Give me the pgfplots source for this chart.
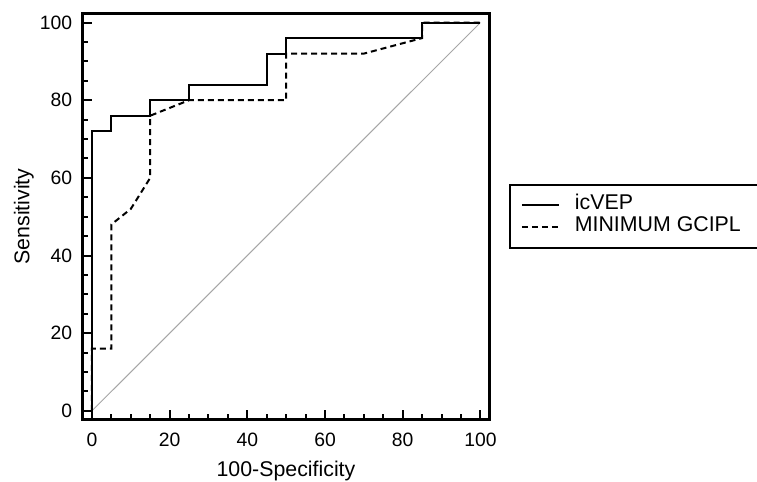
\documentclass[border=0pt]{standalone}
\usepackage{fontspec}
\setmainfont{Liberation Sans}
\usepackage{pgfplots}
\pgfplotsset{compat=1.18}

\newcommand{\tickfont}{\fontsize{14.5}{16}\selectfont}
\newcommand{\labfont}{\fontsize{16}{18}\selectfont}

\begin{document}
\begin{tikzpicture}[x=1pt,y=1pt]
\useasboundingbox (-62.25,-47.25) rectangle (505.5,314.25);
\begin{axis}[
  at={(0,0)}, anchor=south west, scale only axis,
  width=304.5pt, height=303.75pt,
  xmin=-2.3, xmax=102.2, ymin=-2.1, ymax=102.2,
  xtick={0,20,...,100}, ytick={0,20,...,100},
  minor tick num=3,
  xtick pos=bottom, ytick pos=left,
  xtick align=inside, ytick align=inside,
  major tick length=6.5pt, minor tick length=4pt,
  major tick style={black, line width=1.5pt},
  minor tick style={black, line width=1.5pt},
  axis line style={line width=2.25pt},
  /pgf/number format/assume math mode=true,
  tick label style={font=\tickfont},
  xticklabel style={inner sep=0pt, anchor=base, yshift=-20.25pt},
  yticklabel style={inner sep=0pt, anchor=east, xshift=-7.9pt},
  xlabel={100-Specificity}, ylabel={Sensitivity},
  label style={font=\labfont},
  xlabel style={at={(axis description cs:0.5,-0.1432)}, anchor=base, inner sep=0pt},
  ylabel style={at={(axis description cs:-0.1323,0.5)}, anchor=base, inner sep=0pt},
  legend style={at={(1.049,0.580)}, anchor=north west, draw=black,
    line width=1.5pt, font=\labfont, inner xsep=8.25pt, inner ysep=7pt,
    row sep=0pt, column sep=11.25pt,
    nodes={inner sep=0pt, text height=11.5pt, text depth=5pt}},
  legend cell align=left,
  legend image code/.code={\draw[#1] (0pt,0pt) -- (27.75pt,0pt);},
]
\addplot[gray!70, line width=0.75pt, forget plot] coordinates {(0,0) (100,100)};

\addplot[black, line width=1.5pt, line join=miter] coordinates {
(0,0) (0,72) (5,72) (5,76) (15,76) (15,80) (25,80) (25,84) (45,84)
(45,92) (50,92) (50,96) (85,96) (85,100) (100,100)};
\addlegendentry{icVEP}

\addplot[black, line width=1.5pt, dash pattern=on 4.5pt off 3pt] coordinates {
(0,0) (0,16) (5,16) (5,48) (10,52) (15,60) (15,76) (25,80) (50,80)
(50,92) (70,92) (85,96) (85,100) (100,100)};
\addlegendentry{\makebox[145pt][l]{MINIMUM GCIPL}}
\end{axis}
\end{tikzpicture}
\end{document}
